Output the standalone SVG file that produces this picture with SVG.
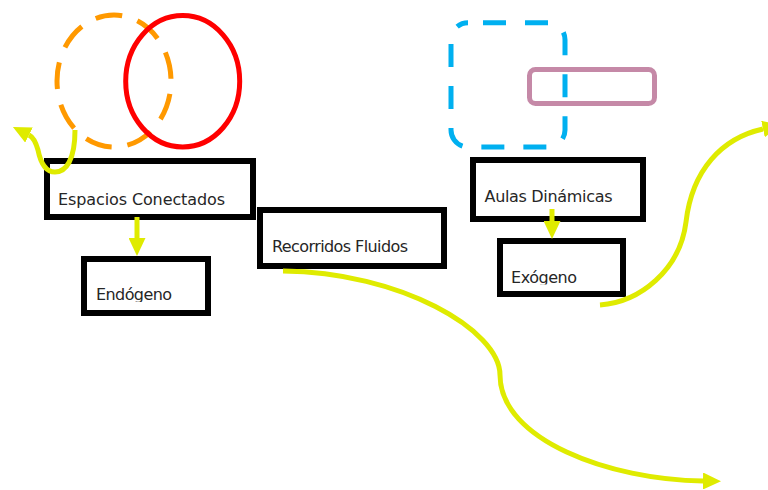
<svg xmlns="http://www.w3.org/2000/svg" width="768" height="490" viewBox="0 0 768 490">
  <style>
    .box { fill: #ffffff; stroke: #000000; stroke-width: 6; }
    .lbl { font-family: "DejaVu Sans", "Liberation Sans", sans-serif; font-size: 16px; fill: #262626; }
    .yl { fill: none; stroke: #DFEB00; stroke-width: 5; }
    .deco { fill: none; stroke-width: 5; }
  </style>
  <defs>
    <marker id="arrow" viewBox="0 0 18 17" refX="0" refY="8.5" markerWidth="18" markerHeight="17" markerUnits="userSpaceOnUse" orient="auto">
      <path d="M0,0 L18,8.5 L0,17 z" fill="#DFEB00"/>
    </marker>
    <clipPath id="clipEndo"><rect x="84" y="259" width="124" height="43"/></clipPath>
    <clipPath id="clipExo"><rect x="500" y="241" width="123" height="43.5"/></clipPath>
  </defs>

  <g id="decor">
    <ellipse id="orange-circle" cx="114" cy="81" rx="57" ry="66" class="deco" stroke="#FF9900" stroke-dasharray="27 16" stroke-dashoffset="30"/>
    <ellipse id="red-ellipse" cx="182.7" cy="81.3" rx="57" ry="65.7" class="deco" stroke="#FF0000" stroke-width="6"/>
    <rect id="mauve-rect" x="529.5" y="69.5" width="125" height="34" rx="6" class="deco" stroke="#C589A7"/>
    <rect id="blue-rect" x="451" y="22.7" width="114" height="124.3" rx="17" class="deco" stroke="#00B0F0" stroke-dasharray="23 19" stroke-dashoffset="27"/>
  </g>

  <g id="node-espacios">
    <rect class="box" x="47" y="161" width="206" height="56"/>
    <text class="lbl" x="58" y="204.5" textLength="167">Espacios Conectados</text>
  </g>
  <g id="node-endogeno">
    <rect class="box" x="84" y="259" width="124" height="54"/>
    <text class="lbl" x="96" y="299.5" textLength="76" clip-path="url(#clipEndo)">Endógeno</text>
  </g>
  <g id="node-recorridos">
    <rect class="box" x="260" y="210" width="184" height="56"/>
    <text class="lbl" x="272" y="252" textLength="136">Recorridos Fluidos</text>
  </g>
  <g id="node-aulas">
    <rect class="box" x="473" y="160" width="170" height="59"/>
    <text class="lbl" x="484.5" y="202" textLength="128">Aulas Dinámicas</text>
  </g>
  <g id="node-exogeno">
    <rect class="box" x="500" y="241" width="123" height="53"/>
    <text class="lbl" x="511" y="283.3" textLength="66" clip-path="url(#clipExo)">Exógeno</text>
  </g>

  <g id="connectors">
    <path class="yl" d="M75,130 C75,160 66,172 55,172 C44,172 40,160 38,150 C36,143 34,137.5 29,135" marker-end="url(#arrow)"/>
    <path class="yl" d="M137,217 L137,238" marker-end="url(#arrow)"/>
    <path class="yl" d="M552,209 L552,221" marker-end="url(#arrow)"/>
    <path class="yl" d="M283,271 C400,272 500,330 500,375 C500,440 610,480 703,481" marker-end="url(#arrow)"/>
    <path class="yl" d="M600,305 C640,302 680,270 686,222 C692,170 722,138 763,129" marker-end="url(#arrow)"/>
  </g>
</svg>
